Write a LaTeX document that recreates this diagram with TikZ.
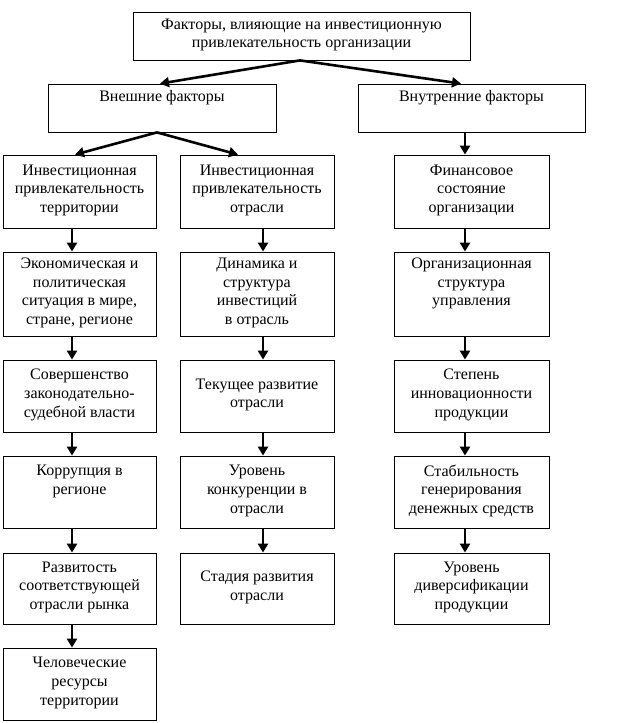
\documentclass[tikz,border=0pt]{standalone}
\usepackage{fontspec}
\setmainfont{Liberation Serif}
\usetikzlibrary{arrows.meta}
\begin{document}
\begin{tikzpicture}[x=1pt,y=-1pt,
  box/.style={draw,line width=0.8pt,inner sep=0pt,align=center,
    font=\fontsize{16}{18.7}\selectfont,
    execute at begin node=\strut, execute at end node=\strut},
  arr/.style={line width=2.6pt,-{Triangle[width=10pt,length=9pt]}}]
\useasboundingbox[fill=white] (0,0) rectangle (640,723);
% top level
\node[box,minimum width=337pt,minimum height=48pt] (top) at (301.5,36)
  {Факторы, влияющие на инвестиционную\\привлекательность организации};
\node[box,minimum width=228pt,minimum height=48pt] (ext) at (162,108)
  {Внешние факторы\\\mbox{}};
\node[box,minimum width=227pt,minimum height=48pt] (int) at (471.5,108)
  {Внутренние факторы\\\mbox{}};
% column 1
\node[box,minimum width=153pt,minimum height=73pt] (a1) at (79.5,191.5)
  {Инвестиционная\\привлекательность\\территории};
\node[box,minimum width=153pt,minimum height=84pt] (a2) at (79.5,294)
  {Экономическая и\\политическая\\ситуация в мире,\\стране, регионе};
\node[box,minimum width=153pt,minimum height=72pt] (a3) at (79.5,396)
  {Совершенство\\законодательно-\\судебной власти};
\node[box,minimum width=153pt,minimum height=72pt] (a4) at (79.5,492)
  {Коррупция в\\регионе\\\mbox{}};
\node[box,minimum width=153pt,minimum height=71pt] (a5) at (79.5,588.5)
  {Развитость\\соответствующей\\отрасли рынка};
\node[box,minimum width=153pt,minimum height=72pt] (a6) at (79.5,684)
  {Человеческие\\ресурсы\\территории};
% column 2
\node[box,minimum width=154pt,minimum height=73pt] (b1) at (257,191.5)
  {Инвестиционная\\привлекательность\\отрасли};
\node[box,minimum width=154pt,minimum height=84pt] (b2) at (257,294)
  {Динамика и\\структура\\инвестиций\\в отрасль};
\node[box,minimum width=154pt,minimum height=72pt] (b3) at (257,396)
  {Текущее развитие\\отрасли};
\node[box,minimum width=154pt,minimum height=72pt] (b4) at (257,492)
  {Уровень\\конкуренции в\\отрасли};
\node[box,minimum width=154pt,minimum height=71pt] (b5) at (257,588.5)
  {Стадия развития\\отрасли};
% column 3
\node[box,minimum width=155pt,minimum height=73pt] (c1) at (471.5,191.5)
  {Финансовое\\состояние\\организации};
\node[box,minimum width=155pt,minimum height=84pt] (c2) at (471.5,294)
  {Организационная\\структура\\управления\\\mbox{}};
\node[box,minimum width=155pt,minimum height=72pt] (c3) at (471.5,396)
  {Степень\\инновационности\\продукции};
\node[box,minimum width=155pt,minimum height=72pt] (c4) at (471.5,492)
  {Стабильность\\генерирования\\денежных средств};
\node[box,minimum width=155pt,minimum height=71pt] (c5) at (471.5,588.5)
  {Уровень\\диверсификации\\продукции};
% diagonal arrows
\draw[arr] ([xshift=-1.5pt]top.south) -- ([xshift=-2pt]ext.north);
\draw[arr] ([xshift=-1.5pt]top.south) -- ([xshift=-10.5pt]int.north);
\draw[arr] ([xshift=-5pt]ext.south) -- ([xshift=-4.5pt]a1.north);
\draw[arr] ([xshift=-5pt]ext.south) -- ([xshift=-19pt]b1.north);
\draw[arr] ([xshift=-6.5pt]int.south) -- ([xshift=-6.5pt]c1.north);
% column 1 arrows
\draw[arr] ([xshift=-7.5pt]a1.south) -- ([xshift=-7.5pt]a2.north);
\draw[arr] ([xshift=-7.5pt]a2.south) -- ([xshift=-7.5pt]a3.north);
\draw[arr] ([xshift=-7.5pt]a3.south) -- ([xshift=-7.5pt]a4.north);
\draw[arr] ([xshift=-7.5pt]a4.south) -- ([xshift=-7.5pt]a5.north);
\draw[arr] ([xshift=-7.5pt]a5.south) -- ([xshift=-7.5pt]a6.north);
% column 2 arrows
\draw[arr] ([xshift=6pt]b1.south) -- ([xshift=6pt]b2.north);
\draw[arr] ([xshift=6pt]b2.south) -- ([xshift=6pt]b3.north);
\draw[arr] ([xshift=6pt]b3.south) -- ([xshift=6pt]b4.north);
\draw[arr] ([xshift=6pt]b4.south) -- ([xshift=6pt]b5.north);
% column 3 arrows
\draw[arr] ([xshift=-6.5pt]c1.south) -- ([xshift=-6.5pt]c2.north);
\draw[arr] ([xshift=-6.5pt]c2.south) -- ([xshift=-6.5pt]c3.north);
\draw[arr] ([xshift=-6.5pt]c3.south) -- ([xshift=-6.5pt]c4.north);
\draw[arr] ([xshift=-6.5pt]c4.south) -- ([xshift=-6.5pt]c5.north);
\end{tikzpicture}
\end{document}
